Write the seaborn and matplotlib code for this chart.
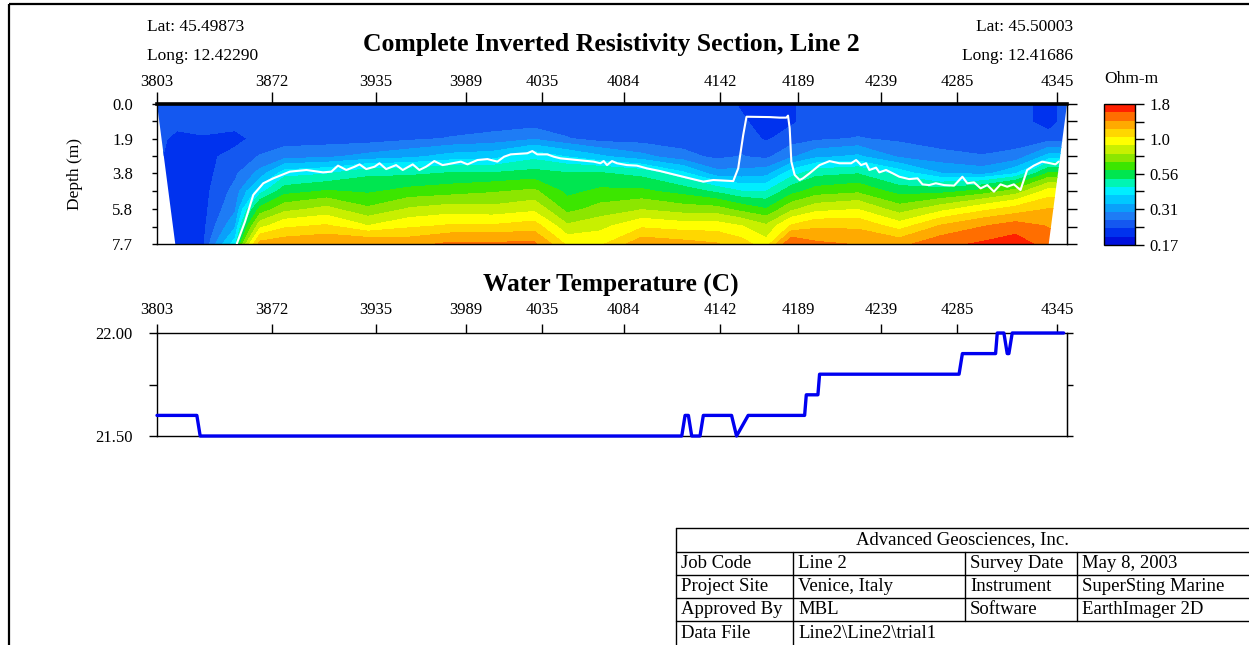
import numpy as np
import matplotlib
matplotlib.use('Agg')
import matplotlib.pyplot as plt
import seaborn as sns
from matplotlib.colors import ListedColormap, LogNorm
from matplotlib.patches import Polygon, Rectangle
from matplotlib.ticker import NullFormatter

sns.set_style('white', rc={'axes.edgecolor': 'black', 'text.color': 'black',
                           'xtick.color': 'black', 'ytick.color': 'black',
                           'axes.labelcolor': 'black'})
plt.rcParams['font.family'] = ['Liberation Serif', 'DejaVu Serif']

# --- данные -------------------------------------------------------------
x_ticks = [3803, 3872, 3935, 3989, 4035, 4084, 4142, 4189, 4239, 4285, 4345]
depth_ticks = [0.0, 1.9, 3.8, 5.8, 7.7]
depth_minor = [0.95, 2.85, 4.8, 6.75]

# глубины строк сетки (м) и станции по профилю
depth_rows = [0.0, 1.0, 1.9, 2.9, 3.8, 4.8, 5.8, 6.7, 7.7]
station_x = [3803, 3815, 3830, 3850, 3865, 3880, 3905, 3930, 3955, 3980,
             4005, 4030, 4050, 4070, 4095, 4120, 4140, 4155, 4170, 4185,
             4200, 4225, 4250, 4275, 4300, 4320, 4340, 4351]
# сопротивление (Ohm-m) по станциям, сверху вниз
rho = [
    [0.24, 0.24, 0.24, 0.23, 0.22, 0.21, 0.21, 0.21, 0.21],
    [0.24, 0.24, 0.21, 0.21, 0.21, 0.21, 0.21, 0.21, 0.21],
    [0.24, 0.24, 0.22, 0.21, 0.21, 0.21, 0.21, 0.21, 0.21],
    [0.24, 0.24, 0.21, 0.24, 0.25, 0.27, 0.29, 0.33, 0.42],
    [0.24, 0.24, 0.24, 0.26, 0.31, 0.42, 0.62, 0.85, 1.25],
    [0.24, 0.24, 0.24, 0.28, 0.42, 0.56, 0.75, 1.00, 1.30],
    [0.24, 0.24, 0.24, 0.29, 0.44, 0.60, 0.82, 1.05, 1.35],
    [0.24, 0.24, 0.24, 0.31, 0.50, 0.58, 0.70, 0.90, 1.35],
    [0.24, 0.24, 0.25, 0.33, 0.50, 0.62, 0.80, 1.00, 1.30],
    [0.24, 0.24, 0.26, 0.36, 0.52, 0.64, 0.84, 1.05, 1.40],
    [0.24, 0.24, 0.27, 0.37, 0.52, 0.67, 0.82, 1.05, 1.40],
    [0.24, 0.24, 0.29, 0.43, 0.54, 0.70, 0.87, 1.10, 1.40],
    [0.24, 0.24, 0.26, 0.39, 0.52, 0.57, 0.65, 0.80, 1.00],
    [0.24, 0.24, 0.24, 0.35, 0.52, 0.61, 0.72, 0.86, 1.00],
    [0.24, 0.24, 0.24, 0.31, 0.49, 0.61, 0.78, 1.00, 1.30],
    [0.24, 0.24, 0.24, 0.27, 0.40, 0.56, 0.73, 0.96, 1.25],
    [0.24, 0.24, 0.24, 0.25, 0.31, 0.50, 0.72, 0.96, 1.20],
    [0.22, 0.23, 0.24, 0.26, 0.31, 0.45, 0.65, 0.90, 1.10],
    [0.21, 0.21, 0.22, 0.25, 0.32, 0.45, 0.60, 0.80, 0.95],
    [0.22, 0.22, 0.24, 0.29, 0.42, 0.56, 0.76, 1.05, 1.55],
    [0.24, 0.24, 0.25, 0.33, 0.49, 0.63, 0.86, 1.15, 1.40],
    [0.24, 0.24, 0.26, 0.35, 0.51, 0.66, 0.90, 1.15, 1.35],
    [0.24, 0.24, 0.25, 0.29, 0.42, 0.56, 0.73, 0.96, 1.30],
    [0.24, 0.24, 0.24, 0.27, 0.34, 0.56, 0.86, 1.20, 1.50],
    [0.24, 0.24, 0.24, 0.26, 0.32, 0.62, 1.00, 1.35, 1.60],
    [0.24, 0.24, 0.24, 0.27, 0.38, 0.72, 1.10, 1.45, 1.70],
    [0.21, 0.21, 0.24, 0.36, 0.60, 0.95, 1.20, 1.35, 1.45],
    [0.24, 0.24, 0.24, 0.36, 0.60, 0.95, 1.20, 1.35, 1.45],
]
# контур дна (белая линия): (позиция, глубина)
iface_pts = [
    (3851, 7.7), (3856, 6.47), (3861, 5.0), (3867, 4.36), (3873, 4.09),
    (3883, 3.72), (3893, 3.63), (3903, 3.76), (3908, 3.72), (3912, 3.39),
    (3917, 3.63), (3922, 3.45), (3925, 3.32), (3929, 3.58), (3934, 3.45),
    (3937, 3.26), (3941, 3.58), (3947, 3.36), (3951, 3.63), (3957, 3.32),
    (3961, 3.63), (3965, 3.45), (3970, 3.14), (3975, 3.36), (3981, 3.26),
    (3986, 3.17), (3990, 3.32), (3996, 3.08), (4002, 3.03), (4008, 3.17),
    (4012, 2.9), (4016, 2.77), (4026, 2.71), (4029, 2.59), (4032, 2.77),
    (4038, 2.77), (4042, 2.9), (4046, 2.99), (4056, 3.08), (4066, 3.17),
    (4070, 3.26), (4072, 3.14), (4074, 3.36), (4077, 3.14), (4080, 3.26),
    (4086, 3.36), (4092, 3.39), (4098, 3.54), (4106, 3.69), (4114, 3.87),
    (4122, 4.05), (4132, 4.27), (4138, 4.18), (4150, 4.24), (4153, 3.54),
    (4156, 1.71), (4158, 0.70), (4172, 0.72), (4178, 0.75), (4182, 0.75),
    (4183, 0.64), (4184, 1.34), (4185, 3.17), (4187, 3.9), (4190, 4.18),
    (4192, 4.09), (4196, 3.81), (4202, 3.36), (4208, 3.14), (4214, 3.26),
    (4221, 3.26), (4224, 3.08), (4227, 3.36), (4230, 3.26), (4232, 3.63),
    (4236, 3.5), (4238, 3.76), (4242, 3.63), (4246, 3.81), (4250, 4.0),
    (4256, 4.13), (4261, 4.09), (4264, 4.42), (4268, 4.46), (4272, 4.36),
    (4277, 4.46), (4283, 4.49), (4288, 4.0), (4291, 4.36), (4295, 4.31),
    (4299, 4.64), (4303, 4.46), (4307, 4.82), (4311, 4.42), (4315, 4.55),
    (4319, 4.42), (4323, 4.73), (4327, 3.63), (4331, 3.39), (4336, 3.17),
    (4341, 3.26), (4344, 3.32), (4346, 3.17),
]
iface_x = [p[0] for p in iface_pts]
iface_depth = [p[1] for p in iface_pts]

# температура воды
temp_x = [3803, 3827, 3829, 4119, 4121, 4123, 4125, 4130, 4132, 4149, 4152,
          4159, 4193, 4194, 4201, 4202, 4286, 4288, 4308, 4309, 4313, 4315,
          4316, 4318, 4349]
temp_c = [21.6, 21.6, 21.5, 21.5, 21.6, 21.6, 21.5, 21.5, 21.6, 21.6, 21.5,
          21.6, 21.6, 21.7, 21.7, 21.8, 21.8, 21.9, 21.9, 22.0, 22.0, 21.9,
          21.9, 22.0, 22.0]

cbar_ticks = [0.17, 0.31, 0.56, 1.0, 1.8]
cbar_labels = ['0.17', '0.31', '0.56', '1.0', '1.8']
cbar_minor = [0.23, 0.42, 0.75, 1.34]
band_colors = ['#0010DC', '#0032EE', '#1458F0', '#1E7CF5', '#0AA0FA', '#00C8FF',
               '#00EEFF', '#00F5B4', '#00E650', '#3CE600', '#8CE600', '#C8F000',
               '#FFFF00', '#FFD700', '#FFAA00', '#FF6E00', '#FF2000']

table_rows = [
    ['Job Code', 'Line 2', 'Survey Date', 'May 8, 2003'],
    ['Project Site', 'Venice, Italy', 'Instrument', 'SuperSting Marine'],
    ['Approved By', 'MBL', 'Software', 'EarthImager 2D'],
    ['Data File', 'Line2\\Line2\\trial1', '', ''],
]

# --- фигура -------------------------------------------------------------
W, H = 1249, 645
fig = plt.figure(figsize=(W / 100, H / 100), dpi=100)


def box(l, t, r, b):
    return [l / W, 1 - b / H, (r - l) / W, (b - t) / H]


ax = fig.add_axes(box(157, 104, 1067, 244))
cax = fig.add_axes(box(1104, 104, 1135, 245))
axt = fig.add_axes(box(157, 333, 1067, 436))

# разрез сопротивлений
X, Y = np.meshgrid(station_x, depth_rows)
Z = np.array(rho).T
levels = np.geomspace(0.17, 1.8, len(band_colors) + 1)
cmap = ListedColormap(band_colors)
norm = LogNorm(0.17, 1.8)
cf = ax.contourf(X, Y, Z, levels=levels, cmap=cmap, norm=norm)
clip = Polygon([(3803, 0), (4351, 0), (4340, 7.7), (3814, 7.7)], closed=True,
               facecolor='none', edgecolor='none', transform=ax.transData)
ax.add_patch(clip)
cf.set_clip_path(clip)
ax.plot(iface_x, iface_depth, color='white', lw=1.5, zorder=3)

ax.set_xlim(3803, 4351)
ax.set_ylim(7.7, 0)
ax.xaxis.tick_top()
ax.set_xticks(x_ticks, [str(v) for v in x_ticks])
ax.set_yticks(depth_ticks, [f'{v:.1f}' for v in depth_ticks])
ax.set_yticks(depth_minor, minor=True)
ax.tick_params(axis='x', top=True, bottom=False, labeltop=True, labelbottom=False,
               direction='out', length=8.5, width=1, pad=1.5, labelsize=12)
ax.tick_params(axis='y', which='both', left=True, right=False, direction='out',
               length=3.6, width=1, pad=13.5, labelsize=12)
for s in ax.spines.values():
    s.set_linewidth(1)
ax.spines['top'].set_linewidth(2.6)
sec = ax.secondary_yaxis('right')
sec.set_yticks(depth_ticks)
sec.set_yticks(depth_minor, minor=True)
sec.tick_params(which='both', direction='out', length=7.5, width=1,
                labelright=False)

# шкала
cb = fig.colorbar(cf, cax=cax)
cb.set_ticks(cbar_ticks, labels=cbar_labels)
cb.set_ticks(cbar_minor, minor=True)
cax.yaxis.set_minor_formatter(NullFormatter())
cb.outline.set_linewidth(1)
cax.tick_params(which='both', direction='out', length=6.5, width=1, pad=4,
                labelsize=12)

# температура
sns.lineplot(x=temp_x, y=temp_c, ax=axt, color='#0000F0', lw=2.4,
             sort=False, estimator=None, clip_on=False, zorder=3)
axt.set_xlim(3803, 4351)
axt.set_ylim(21.5, 22.0)
axt.xaxis.tick_top()
axt.set_xticks(x_ticks, [str(v) for v in x_ticks])
axt.set_yticks([21.5, 22.0], ['21.50', '22.00'])
axt.set_yticks([21.75], minor=True)
axt.tick_params(axis='x', top=True, bottom=False, labeltop=True, labelbottom=False,
                direction='out', length=6.5, width=1, pad=4, labelsize=12)
axt.tick_params(axis='y', which='both', left=True, right=False, direction='out',
                length=5.8, width=1, pad=12, labelsize=12)
for s in axt.spines.values():
    s.set_linewidth(1)
sect = axt.secondary_yaxis('right')
sect.set_yticks([21.5, 21.75, 22.0])
sect.tick_params(direction='out', length=4.5, width=1, labelright=False)

# подписи, рамка и штамп
ov = fig.add_axes([0, 0, 1, 1])
ov.set_xlim(0, W)
ov.set_ylim(H, 0)
ov.axis('off')
ov.add_patch(Rectangle((9, 4), 1400, 800, fill=False, lw=1.6, edgecolor='black'))

ov.text(147, 27, 'Lat: 45.49873', fontsize=12.5, va='center', ha='left')
ov.text(147, 56, 'Long: 12.42290', fontsize=12.5, va='center', ha='left')
ov.text(1073, 27, 'Lat: 45.50003', fontsize=12.5, va='center', ha='right')
ov.text(1073, 56, 'Long: 12.41686', fontsize=12.5, va='center', ha='right')
ov.text(611, 44, 'Complete Inverted Resistivity Section, Line 2', fontsize=18.5,
        fontweight='bold', ha='center', va='center')
ov.text(611, 285, 'Water Temperature (C)', fontsize=18.3, fontweight='bold',
        ha='center', va='center')
ov.text(75, 174, 'Depth (m)', fontsize=12.5, rotation=90, ha='center', va='center')
ov.text(1104, 79, 'Ohm-m', fontsize=12.5, ha='left', va='center')

row_y = [528, 552, 575, 598, 621, 645]
col_x = [676, 793, 965, 1077]
for y in row_y[:-1]:
    ov.plot([676, 1400], [y, y], color='black', lw=1)
ov.plot([676, 676], [528, 650], color='black', lw=1)
ov.plot([793, 793], [552, 650], color='black', lw=1)
for x in col_x[2:]:
    ov.plot([x, x], [552, 621], color='black', lw=1)
ov.text(963, 540, 'Advanced Geosciences, Inc.', fontsize=13.5, ha='center',
        va='center')
for i, row in enumerate(table_rows):
    yc = (row_y[i + 1] + row_y[i + 2]) / 2
    for x, txt in zip(col_x, row):
        ov.text(x + 5, yc, txt, fontsize=13.5, ha='left', va='center')

fig.savefig('out.png', dpi=100)
